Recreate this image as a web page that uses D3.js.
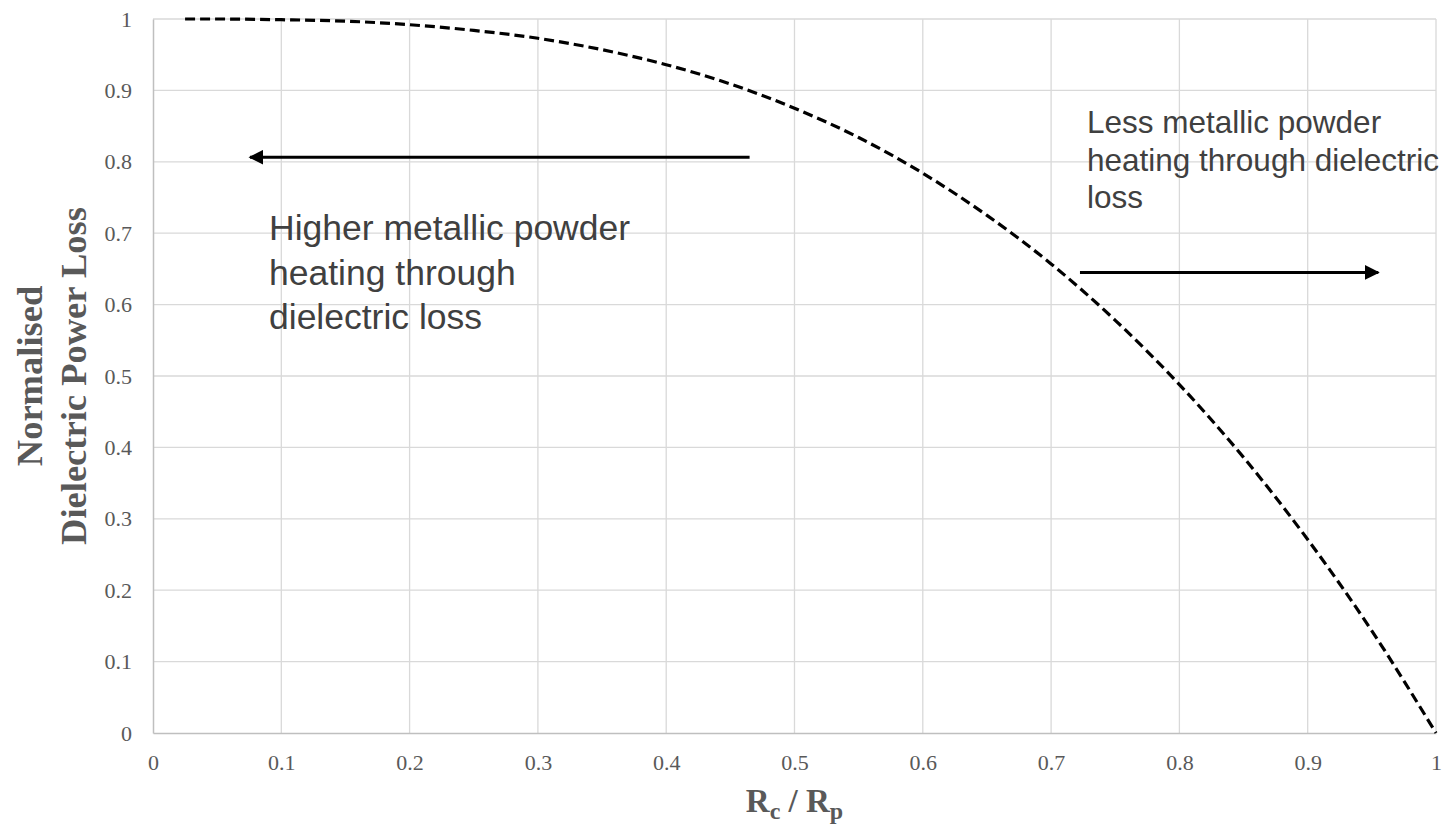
<!DOCTYPE html>
<html>
<head>
<meta charset="utf-8">
<script src="https://cdn.jsdelivr.net/npm/d3@7"></script>
<style>
  body { margin: 0; background: #fff; }
  svg { display: block; }
</style>
</head>
<body>
<div id="chart"></div>
<script>
// ---- data ----
const ratioValues = [0.025, 0.05, 0.1, 0.15, 0.2, 0.25, 0.3, 0.35, 0.4, 0.45, 0.5,
                     0.55, 0.6, 0.65, 0.7, 0.75, 0.8, 0.85, 0.9, 0.95, 1.0];
const lossValues = [1.000, 1.000, 0.999, 0.997, 0.992, 0.984, 0.973, 0.957, 0.936, 0.909, 0.875,
                    0.834, 0.784, 0.725, 0.657, 0.578, 0.488, 0.386, 0.271, 0.143, 0.000];
const tickValues = [0, 0.1, 0.2, 0.3, 0.4, 0.5, 0.6, 0.7, 0.8, 0.9, 1];

// annotation arrows: [x from, x to, y]
const arrowLeft = [0.465, 0.0756, 0.8065];
const arrowRight = [0.7225, 0.955, 0.645];
const leftNote = ['Higher metallic powder', 'heating through', 'dielectric loss'];
const rightNote = ['Less metallic powder', 'heating through dielectric', 'loss'];

// ---- chart dimensions ----
const svgWidth = 1448;
const svgHeight = 830;
const margin = { top: 19, right: 12, bottom: 97, left: 153 };
const chartWidth = 1436 - margin.left;
const chartHeight = 733 - margin.top;

const svg = d3.select('#chart').append('svg')
  .attr('width', svgWidth)
  .attr('height', svgHeight);

const defs = svg.append('defs');
defs.append('marker')
  .attr('id', 'head')
  .attr('viewBox', '0 0 10 10')
  .attr('refX', 9).attr('refY', 5)
  .attr('markerWidth', 5).attr('markerHeight', 5)
  .attr('markerUnits', 'strokeWidth')
  .attr('orient', 'auto')
  .append('path')
  .attr('d', 'M0,0 L10,5 L0,10 Z')
  .attr('fill', '#000');

const g = svg.append('g')
  .attr('transform', `translate(${margin.left}, ${margin.top})`);

const x = d3.scaleLinear().domain([0, 1]).range([0, chartWidth]);
const y = d3.scaleLinear().domain([0, 1]).range([chartHeight, 0]);

// gridlines
g.append('g').selectAll('line.v')
  .data(tickValues.slice(1))
  .join('line')
  .attr('x1', d => x(d)).attr('x2', d => x(d))
  .attr('y1', 0).attr('y2', chartHeight)
  .attr('stroke', '#d9d9d9').attr('stroke-width', 1.3);

g.append('g').selectAll('line.h')
  .data(tickValues.slice(1))
  .join('line')
  .attr('x1', 0).attr('x2', chartWidth)
  .attr('y1', d => y(d)).attr('y2', d => y(d))
  .attr('stroke', '#d9d9d9').attr('stroke-width', 1.3);

// axes
const bottomAxis = d3.axisBottom(x).tickValues(tickValues).tickSize(0).tickPadding(21)
  .tickFormat(d3.format('~g'));
const leftAxis = d3.axisLeft(y).tickValues(tickValues).tickSize(0).tickPadding(21)
  .tickFormat(d3.format('~g'));

const xAxis = g.append('g')
  .attr('transform', `translate(0, ${chartHeight})`)
  .call(bottomAxis);
const yAxis = g.append('g').call(leftAxis);

[xAxis, yAxis].forEach(a => {
  a.select('.domain').attr('stroke', '#bfbfbf').attr('stroke-width', 1.5);
  a.selectAll('text')
    .attr('fill', '#595959')
    .style('font-family', '"Liberation Serif", "Times New Roman", serif')
    .style('font-size', '22px');
});

// curve
const line = d3.line()
  .x((d, i) => x(ratioValues[i]))
  .y(d => y(d))
  .curve(d3.curveMonotoneX);

g.append('path')
  .datum(lossValues)
  .attr('d', line)
  .attr('fill', 'none')
  .attr('stroke', '#000')
  .attr('stroke-width', 3.2)
  .attr('stroke-dasharray', '10,5');

// arrows
[arrowLeft, arrowRight].forEach(a => {
  g.append('line')
    .attr('x1', x(a[0])).attr('x2', x(a[1]))
    .attr('y1', y(a[2])).attr('y2', y(a[2]))
    .attr('stroke', '#000')
    .attr('stroke-width', 3)
    .attr('marker-end', 'url(#head)');
});

// notes
const noteFont = '"Liberation Sans", Arial, sans-serif';
svg.append('text')
  .attr('x', 269).attr('y', 240)
  .attr('fill', '#404040')
  .style('font-family', noteFont)
  .style('font-size', '35.5px')
  .selectAll('tspan')
  .data(leftNote)
  .join('tspan')
  .attr('x', 269)
  .attr('dy', (d, i) => i === 0 ? 0 : 44.5)
  .text(d => d);

svg.append('text')
  .attr('x', 1087).attr('y', 133)
  .attr('fill', '#404040')
  .style('font-family', noteFont)
  .style('font-size', '31.5px')
  .selectAll('tspan')
  .data(rightNote)
  .join('tspan')
  .attr('x', 1087)
  .attr('dy', (d, i) => i === 0 ? 0 : 37.5)
  .text(d => d);

// axis titles
const titleFont = '"Liberation Serif", "Times New Roman", serif';
const xTitle = svg.append('text')
  .attr('x', margin.left + chartWidth / 2)
  .attr('y', 812)
  .attr('text-anchor', 'middle')
  .attr('fill', '#595959')
  .style('font-family', titleFont)
  .style('font-size', '33px')
  .style('font-weight', 'bold');
xTitle.append('tspan').text('R');
xTitle.append('tspan').attr('dy', 7).style('font-size', '24px').text('c');
xTitle.append('tspan').attr('dy', -7).text(' / R');
xTitle.append('tspan').attr('dy', 7).style('font-size', '24px').text('p');

const yTitle = svg.append('text')
  .attr('transform', `translate(0, ${margin.top + chartHeight / 2}) rotate(-90)`)
  .attr('text-anchor', 'middle')
  .attr('fill', '#595959')
  .style('font-family', titleFont)
  .style('font-size', '36.5px')
  .style('font-weight', 'bold');
yTitle.append('tspan').attr('x', 0).attr('y', 42).text('Normalised');
yTitle.append('tspan').attr('x', 0).attr('y', 86).text('Dielectric Power Loss');
</script>
</body>
</html>
